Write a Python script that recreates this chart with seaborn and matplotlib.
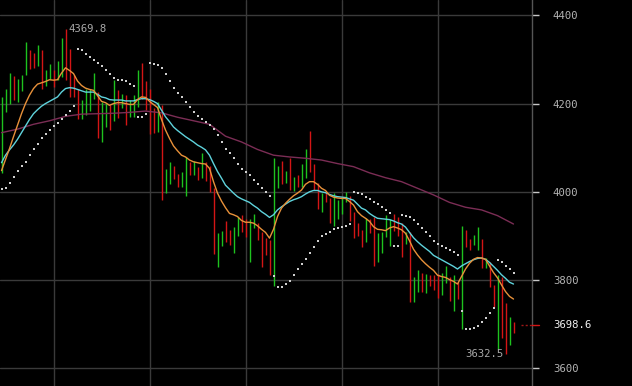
import numpy as np
import pandas as pd
import matplotlib
matplotlib.use("Agg")
import matplotlib.pyplot as plt
import matplotlib.transforms as mtransforms
import seaborn as sns

# --- candle data (one entry per bar) ---
high = [4214, 4234, 4270, 4262, 4256, 4264, 4339, 4322, 4315, 4332,
        4322, 4277, 4290, 4275, 4296, 4349, 4369.8, 4324, 4264, 4234,
        4209, 4234, 4232, 4270, 4226, 4204, 4202, 4196, 4254, 4230,
        4221, 4219, 4208, 4219, 4277, 4293, 4251, 4232, 4189, 4204,
        4196, 4051, 4067, 4059, 4040, 4044, 4078, 4068, 4070, 4057,
        4089, 4067, 4059, 4008, 3906, 3912, 3934, 3914, 3920, 3944,
        3948, 3938, 3938, 3950, 3930, 3908, 3895, 3891, 4076, 4058,
        4070, 4048, 4076, 4034, 4037, 4062, 4098, 4137, 4062, 4021,
        3997, 3997, 3985, 3997, 3982, 3989, 4000, 3991, 3955, 3929,
        3914, 3940, 3938, 3944, 3906, 3908, 3948, 3938, 3949, 3944,
        3929, 3910, 3908, 3808, 3823, 3816, 3814, 3812, 3812, 3814,
        3817, 3831, 3807, 3812, 3795, 3923, 3914, 3893, 3901, 3920,
        3893, 3850, 3842, 3789, 3812, 3808, 3749, 3717, 3704]
low = [4043, 4181, 4200, 4209, 4204, 4228, 4264, 4279, 4281, 4284,
       4232, 4240, 4256, 4238, 4253, 4260, 4253, 4215, 4214, 4164,
       4164, 4174, 4183, 4211, 4123, 4112, 4146, 4140, 4160, 4168,
       4189, 4151, 4170, 4170, 4192, 4211, 4186, 4132, 4134, 4136,
       3982, 3998, 4017, 4028, 4012, 4012, 3991, 4037, 4037, 4027,
       4032, 4025, 3999, 3859, 3829, 3878, 3887, 3879, 3861, 3899,
       3908, 3897, 3841, 3918, 3890, 3829, 3856, 3811, 3786, 4009,
       4018, 4019, 4003, 4002, 4012, 4010, 4032, 4044, 4003, 3960,
       3955, 3978, 3929, 3923, 3938, 3950, 3976, 3933, 3895, 3899,
       3876, 3886, 3906, 3831, 3840, 3861, 3897, 3878, 3912, 3900,
       3853, 3882, 3750, 3750, 3772, 3772, 3771, 3786, 3777, 3759,
       3767, 3793, 3752, 3729, 3756, 3688, 3874, 3867, 3880, 3869,
       3827, 3827, 3784, 3740, 3643, 3668, 3632.5, 3652, 3680]
# 1 = closed up (green), 0 = closed down (red)
rising = [1, 1, 1, 0, 1, 1, 1, 0, 0, 1,
          0, 1, 1, 0, 1, 1, 0, 0, 0, 0,
          1, 1, 1, 1, 0, 1, 1, 0, 1, 0,
          1, 0, 1, 1, 1, 0, 0, 0, 0, 1,
          0, 1, 1, 0, 0, 1, 1, 0, 1, 0,
          1, 0, 0, 0, 1, 1, 0, 0, 1, 1,
          0, 0, 1, 1, 0, 0, 0, 0, 1, 1,
          0, 1, 0, 1, 0, 1, 1, 0, 0, 0,
          1, 0, 0, 1, 1, 1, 1, 0, 0, 0,
          0, 1, 0, 0, 1, 1, 1, 1, 0, 0,
          0, 1, 0, 1, 1, 0, 1, 0, 0, 0,
          1, 1, 0, 1, 0, 1, 0, 0, 1, 1,
          0, 1, 0, 0, 1, 0, 0, 1, 0]

# --- indicators ---
ma_fast = [4048, 4073, 4098, 4125, 4151, 4177, 4200, 4219, 4234, 4244,
           4247, 4250, 4254, 4253, 4254, 4269, 4281, 4275, 4268, 4251,
           4241, 4235, 4232, 4230, 4218, 4205, 4202, 4196, 4200, 4202,
           4202, 4200, 4198, 4198, 4209, 4215, 4214, 4205, 4198, 4191,
           4164, 4140, 4121, 4104, 4093, 4083, 4079, 4072, 4068, 4066,
           4064, 4063, 4053, 4023, 3997, 3979, 3964, 3951, 3948, 3944,
           3935, 3931, 3931, 3929, 3923, 3915, 3908, 3895, 3915, 3944,
           3963, 3974, 3983, 3991, 3997, 4004, 4017, 4023, 4023, 4017,
           4008, 4003, 3992, 3988, 3986, 3985, 3985, 3978, 3970, 3955,
           3946, 3940, 3933, 3921, 3915, 3914, 3912, 3918, 3921, 3918,
           3914, 3906, 3889, 3870, 3857, 3846, 3837, 3829, 3822, 3811,
           3808, 3806, 3801, 3797, 3791, 3808, 3825, 3838, 3847, 3851,
           3850, 3847, 3832, 3817, 3805, 3789, 3774, 3763, 3757]
ma_mid = [4066, 4083, 4095, 4106, 4119, 4134, 4149, 4164, 4177, 4186,
          4194, 4200, 4205, 4210, 4215, 4226, 4234, 4236, 4235, 4232,
          4229, 4226, 4226, 4226, 4221, 4215, 4213, 4209, 4208, 4208,
          4208, 4206, 4206, 4206, 4209, 4211, 4211, 4209, 4205, 4200,
          4185, 4170, 4159, 4147, 4139, 4132, 4125, 4119, 4113, 4106,
          4101, 4095, 4083, 4064, 4046, 4031, 4015, 4006, 3997, 3989,
          3984, 3980, 3976, 3969, 3963, 3955, 3949, 3942, 3948, 3959,
          3966, 3972, 3978, 3982, 3985, 3989, 3995, 4000, 4003, 4003,
          4000, 3998, 3994, 3991, 3989, 3988, 3987, 3984, 3981, 3972,
          3963, 3959, 3951, 3945, 3940, 3939, 3938, 3937, 3934, 3930,
          3927, 3920, 3908, 3896, 3887, 3879, 3872, 3865, 3856, 3851,
          3846, 3841, 3836, 3831, 3825, 3832, 3837, 3842, 3846, 3849,
          3850, 3847, 3840, 3831, 3822, 3812, 3804, 3795, 3791]
# slow average read every 4th bar
ma_slow_bars = list(range(0, 129, 4))
ma_slow = [4134, 4142, 4153, 4161, 4171, 4176, 4177, 4178, 4180, 4183,
           4179, 4169, 4161, 4153, 4126, 4113, 4096, 4083, 4079, 4076,
           4072, 4064, 4057, 4043, 4032, 4023, 4008, 3993, 3976, 3965,
           3959, 3946, 3927]
sar = [4006, 4009, 4021, 4034, 4048, 4059, 4068, 4083, 4096, 4108,
       4121, 4131, 4140, 4149, 4156, 4164, 4173, 4183, 4194, 4323,
       4321, 4313, 4305, 4299, 4292, 4284, 4275, 4266, 4258, 4253,
       4253, 4250, 4245, 4239, 4170, 4170, 4177, 4292, 4289, 4287,
       4281, 4268, 4250, 4235, 4224, 4214, 4204, 4192, 4181, 4171,
       4164, 4159, 4151, 4142, 4128, 4113, 4098, 4087, 4076, 4063,
       4052, 4046, 4037, 4027, 4017, 4009, 4000, 3991, 3810, 3784,
       3784, 3792, 3798, 3812, 3824, 3836, 3847, 3861, 3875, 3889,
       3900, 3904, 3910, 3915, 3919, 3920, 3922, 3926, 4000, 3998,
       3994, 3989, 3984, 3978, 3972, 3965, 3959, 3953, 3878, 3878,
       3948, 3945, 3944, 3936, 3927, 3918, 3908, 3899, 3889, 3881,
       3878, 3873, 3868, 3863, 3857, 3729, 3688, 3688, 3692, 3697,
       3704, 3714, 3725, 3736, 3846, 3840, 3832, 3826, 3816]

price_ticks = [3600, 3800, 4000, 4200, 4400]
grid_bars = [13, 37, 61, 85, 109]
last_price = 3698.6
max_bar, max_price = 16, 4369.8
min_bar, min_price = 126, 3632.5

UP, DOWN = "#1ec21e", "#d41515"
FAST, MID, SLOW = "#e8913a", "#5fd3dc", "#7b2d55"
TEXT = "#b4b4b4"

sns.set_theme(style="dark", rc={"axes.facecolor": "#000000",
                                "figure.facecolor": "#000000"})
plt.rcParams["font.family"] = ["DejaVu Sans Mono", "DejaVu Sans"]

df = pd.DataFrame({"bar": np.arange(len(high)), "high": high, "low": low,
                   "rising": rising, "ma_fast": ma_fast, "ma_mid": ma_mid,
                   "sar": sar})
slow_df = pd.DataFrame({"bar": ma_slow_bars, "ma_slow": ma_slow})

fig = plt.figure(figsize=(6.32, 3.86), dpi=100)
ax = fig.add_axes([0, 0, 532 / 632, 1])

# candles: 1px high-low sticks
colors = np.where(df["rising"] == 1, UP, DOWN)
ax.vlines(df["bar"], df["low"], df["high"], colors=colors, linewidth=1, zorder=2)

sns.lineplot(data=slow_df, x="bar", y="ma_slow", color=SLOW, linewidth=1,
             estimator=None, ax=ax, zorder=3)
sns.lineplot(data=df, x="bar", y="ma_mid", color=MID, linewidth=1,
             estimator=None, ax=ax, zorder=4)
sns.lineplot(data=df, x="bar", y="ma_fast", color=FAST, linewidth=1,
             estimator=None, ax=ax, zorder=5)
sns.scatterplot(data=df, x="bar", y="sar", color="#cfcfcf", marker="s", s=3,
                linewidth=0, ax=ax, zorder=6)

ax.set_xlim(-0.375, 132.625)
ax.set_ylim(3559.9, 4434.7)
ax.set_xlabel("")
ax.set_ylabel("")

ax.set_xticks(grid_bars)
ax.set_yticks(price_ticks)
ax.tick_params(axis="x", length=0, labelbottom=False)
ax.yaxis.tick_right()
ax.tick_params(axis="y", length=5, width=1, color="#c8c8c8", pad=10,
               labelsize=7.7, labelcolor=TEXT)
ax.grid(True, color="#3a3a3a", linewidth=1)
for side in ["left", "top", "bottom"]:
    ax.spines[side].set_visible(False)
ax.spines["right"].set_color("#555555")
ax.spines["right"].set_linewidth(1)

# high / low annotations
ax.annotate(f"{max_price}", (max_bar, max_price), xytext=(2, 0),
            textcoords="offset points", ha="left", va="center",
            fontsize=7.7, color="#a8a8a8")
ax.annotate(f"{min_price}", (min_bar, min_price), xytext=(-1.5, 0),
            textcoords="offset points", ha="right", va="center",
            fontsize=7.7, color="#a8a8a8")

# last price marker on the axis
trans = mtransforms.blended_transform_factory(ax.transAxes, ax.transData)
ax.plot([0.979, 1.0], [last_price, last_price], color="#a01818", linewidth=1,
        linestyle=(0, (1.5, 1.5)), transform=trans, clip_on=False, zorder=7)
ax.plot([1.0, 1.0135], [last_price, last_price], color="#d41515", linewidth=1,
        transform=trans, clip_on=False, zorder=7)
ax.text(1.0 + 21 / 532, last_price, f"{last_price}", transform=trans,
        ha="left", va="center", fontsize=7.7, color="#f0f0f0")

fig.savefig("out.png", dpi=100, facecolor=fig.get_facecolor())
